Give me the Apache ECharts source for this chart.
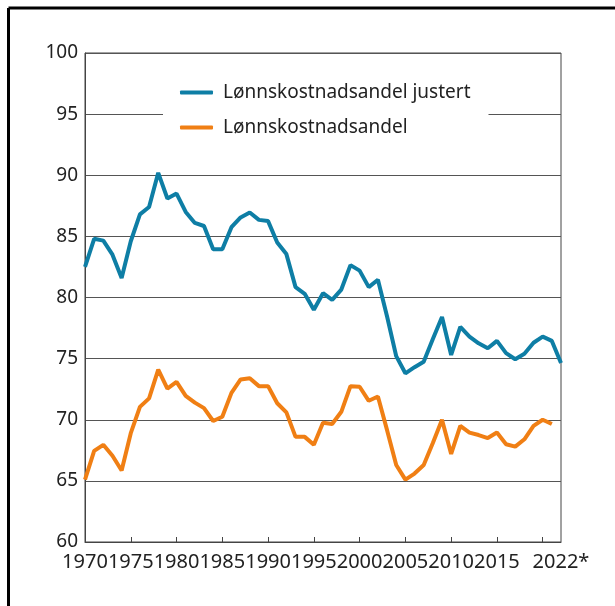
<!DOCTYPE html>
<html>
<head>
<meta charset="utf-8">
<script src="https://cdn.jsdelivr.net/npm/echarts@6/dist/echarts.min.js"></script>
<style>
  html, body { margin: 0; padding: 0; background: #fff; }
  #chart { width: 615px; height: 606px; }
</style>
</head>
<body>
<div id="chart"></div>
<script>
// årstall 1970 - 2022
const years = [];
for (let y = 1970; y <= 2022; y++) years.push(String(y));

// lønnskostnadsandel justert (1970-2022)
const justert = [
    82.5, 84.8, 84.65, 83.5, 81.6, 84.6, 86.8, 87.4, 90.2, 88.1,
    88.5, 87.0, 86.1, 85.85, 83.95, 83.95, 85.75, 86.55, 86.95, 86.35,
    86.25, 84.5, 83.55, 80.85, 80.3, 79.0, 80.35, 79.8, 80.65, 82.65,
    82.2, 80.85, 81.45, 78.45, 75.2, 73.8, 74.3, 74.75, 76.6, 78.4,
    75.3, 77.6, 76.8, 76.25, 75.85, 76.45, 75.45, 74.95, 75.4, 76.3,
    76.8, 76.45, 74.65
];

// lønnskostnadsandel (1970-2021)
const andel = [
    65.1, 67.45, 67.95, 67.05, 65.85, 68.9, 71.05, 71.75, 74.1, 72.55,
    73.1, 71.95, 71.4, 70.95, 69.9, 70.25, 72.2, 73.3, 73.4, 72.75,
    72.75, 71.35, 70.6, 68.6, 68.6, 67.95, 69.75, 69.65, 70.65, 72.75,
    72.7, 71.55, 71.9, 69.15, 66.3, 65.1, 65.6, 66.3, 68.1, 70.0,
    67.2, 69.5, 68.95, 68.75, 68.5, 68.95, 68.0, 67.8, 68.4, 69.5,
    70.0, 69.65
];

const seriesNames = ['Lønnskostnadsandel justert', 'Lønnskostnadsandel'];
const colors = ['#0e7ea5', '#f07f14'];

const font = 'Noto Sans';

const options = {
    animation: false,
    color: colors,
    graphic: [
        { type: 'line', shape: { x1: 8.5, y1: 8, x2: 615, y2: 8 }, style: { stroke: '#000', lineWidth: 3 } },
        { type: 'line', shape: { x1: 8.5, y1: 8, x2: 8.5, y2: 606 }, style: { stroke: '#000', lineWidth: 3 } }
    ],
    grid: {
        left: 85,
        right: 54,
        top: 53,
        bottom: 64,
        show: true,
        borderColor: '#444',
        borderWidth: 1,
        containLabel: false
    },
    legend: {
        orient: 'vertical',
        left: 163,
        top: 73,
        padding: [10, 18, 10, 17],
        backgroundColor: '#fff',
        itemWidth: 33,
        itemHeight: 4,
        itemGap: 16,
        icon: 'roundRect',
        textStyle: {
            fontFamily: font,
            fontSize: 19,
            lineHeight: 19,
            color: '#222',
            padding: [0, 0, 0, 5]
        },
        data: seriesNames
    },
    xAxis: {
        type: 'category',
        boundaryGap: false,
        data: years,
        axisLine: { lineStyle: { color: '#444', width: 1 } },
        axisTick: {
            inside: true,
            length: 5,
            lineStyle: { color: '#444' },
            interval: function (i, v) {
                const y = +v;
                return y % 5 === 0 && y > 1970 && y < 2022;
            }
        },
        axisLabel: {
            fontFamily: font,
            fontSize: 20,
            color: '#222',
            margin: 10,
            interval: function (i, v) {
                const y = +v;
                return (y % 5 === 0 && y <= 2015) || y === 2022;
            },
            formatter: function (v) {
                return v === '2022' ? '2022*' : v;
            }
        }
    },
    yAxis: {
        type: 'value',
        min: 60,
        max: 100,
        interval: 5,
        axisLine: { show: true, lineStyle: { color: '#444', width: 1 } },
        axisTick: { show: false },
        splitLine: { lineStyle: { color: '#555', width: 1 } },
        axisLabel: {
            fontFamily: font,
            fontSize: 19,
            color: '#222',
            margin: 7
        }
    },
    series: [
        {
            name: seriesNames[0],
            type: 'line',
            data: justert,
            symbol: 'none',
            lineStyle: { width: 4, color: colors[0] }
        },
        {
            name: seriesNames[1],
            type: 'line',
            data: andel,
            symbol: 'none',
            lineStyle: { width: 4, color: colors[1] }
        }
    ]
};

const E = echarts.init(document.getElementById('chart'));
window.onresize = function () {
    E.resize();
};
E.setOption(options);
</script>
</body>
</html>
